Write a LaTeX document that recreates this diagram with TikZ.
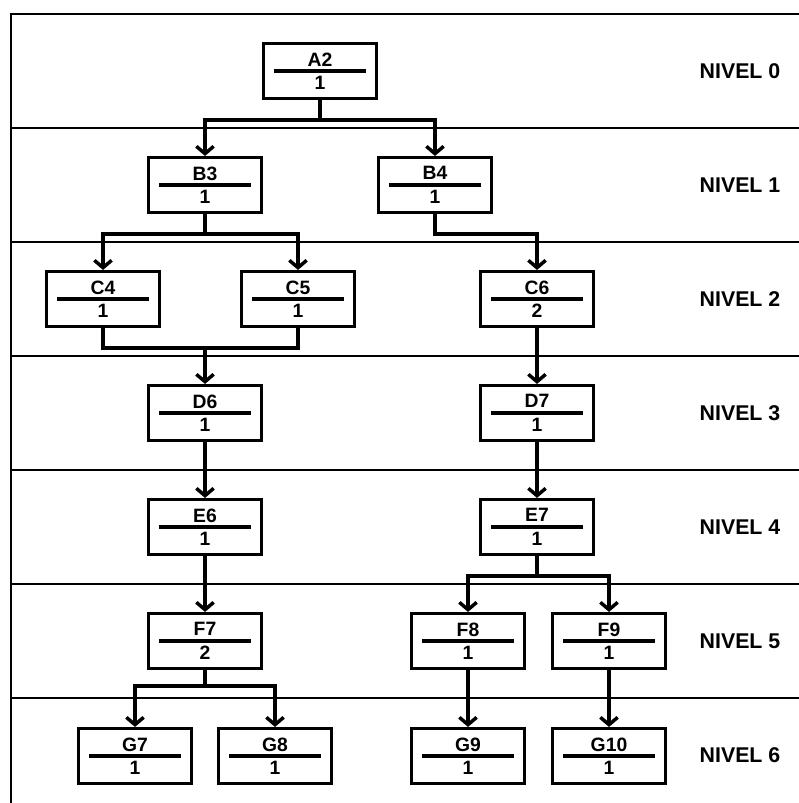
\documentclass[tikz,border=0pt]{standalone}
\usepackage{fontspec}
\setmainfont{Liberation Sans}
\usetikzlibrary{arrows.meta}

\begin{document}
\begin{tikzpicture}[
      x=0.75pt, y=-0.75pt,
      caja/.style={draw, rectangle, line width=2.6pt,
                   minimum width=85pt, minimum height=41pt, inner sep=0pt,
                   align=center, font=\fontsize{14.5}{17.5}\selectfont\bfseries,
                   path picture={\draw[line width=2.6pt]
                     ([xshift=8pt]path picture bounding box.west) --
                     ([xshift=-8pt]path picture bounding box.east);}},
      nivel/.style={font=\fontsize{16}{19}\selectfont\bfseries},
      sep/.style={line width=0.9pt},
      con/.style={line width=2.6pt},
      arr/.style={-{Straight Barb[length=5.5pt, width=13pt]}, line width=2.6pt}
    ]
    \useasboundingbox (0,0) rectangle (799,803);

    \draw[sep] (11,803) -- (11,14) -- (799,14);
    \foreach \k in {1,...,6}
      \draw[sep] (11,14+114*\k) -- (799,14+114*\k);
    \foreach \k in {0,...,6}
      \node[nivel] (nivel\k) at (740,71+114*\k) {NIVEL \k};

    \node[caja] (a2)  at (320,71)  {A2\\1};
    \node[caja] (b3)  at (205,185) {B3\\1};
    \node[caja] (b4)  at (435,185) {B4\\1};
    \node[caja] (c4)  at (103,299) {C4\\1};
    \node[caja] (c5)  at (298,299) {C5\\1};
    \node[caja] (c6)  at (537,299) {C6\\2};
    \node[caja] (d6)  at (205,413) {D6\\1};
    \node[caja] (d7)  at (537,413) {D7\\1};
    \node[caja] (e6)  at (205,527) {E6\\1};
    \node[caja] (e7)  at (537,527) {E7\\1};
    \node[caja] (f7)  at (205,641) {F7\\2};
    \node[caja] (f8)  at (468,641) {F8\\1};
    \node[caja] (f9)  at (609,641) {F9\\1};
    \node[caja] (g7)  at (135,756) {G7\\1};
    \node[caja] (g8)  at (275,756) {G8\\1};
    \node[caja] (g9)  at (468,756) {G9\\1};
    \node[caja] (g10) at (609,756) {G10\\1};

    \draw[arr] (a2.south) -- ++(0,20) -| (b3.north);
    \draw[arr] (a2.south) -- ++(0,20) -| (b4.north);
    \draw[arr] (b3.south) -- ++(0,20) -| (c4.north);
    \draw[arr] (b3.south) -- ++(0,20) -| (c5.north);
    \draw[arr] (b4.south) -- ++(0,20) -| (c6.north);
    \draw[con] (c4.south) -- ++(0,20) -| (c5.south);
    \coordinate (cd) at ([yshift=-15pt]c4.south -| d6.north);
    \draw[arr] (cd) -- (d6.north);
    \draw[arr] (c6) -- (d7);
    \draw[arr] (d6) -- (e6);
    \draw[arr] (d7) -- (e7);
    \draw[arr] (e6) -- (f7);
    \draw[arr] (e7.south) -- ++(0,20) -| (f8.north);
    \draw[arr] (e7.south) -- ++(0,20) -| (f9.north);
    \draw[arr] (f7.south) -- ++(0,16) -| (g7.north);
    \draw[arr] (f7.south) -- ++(0,16) -| (g8.north);
    \draw[arr] (f8) -- (g9);
    \draw[arr] (f9) -- (g10);
  \end{tikzpicture}
\end{document}
